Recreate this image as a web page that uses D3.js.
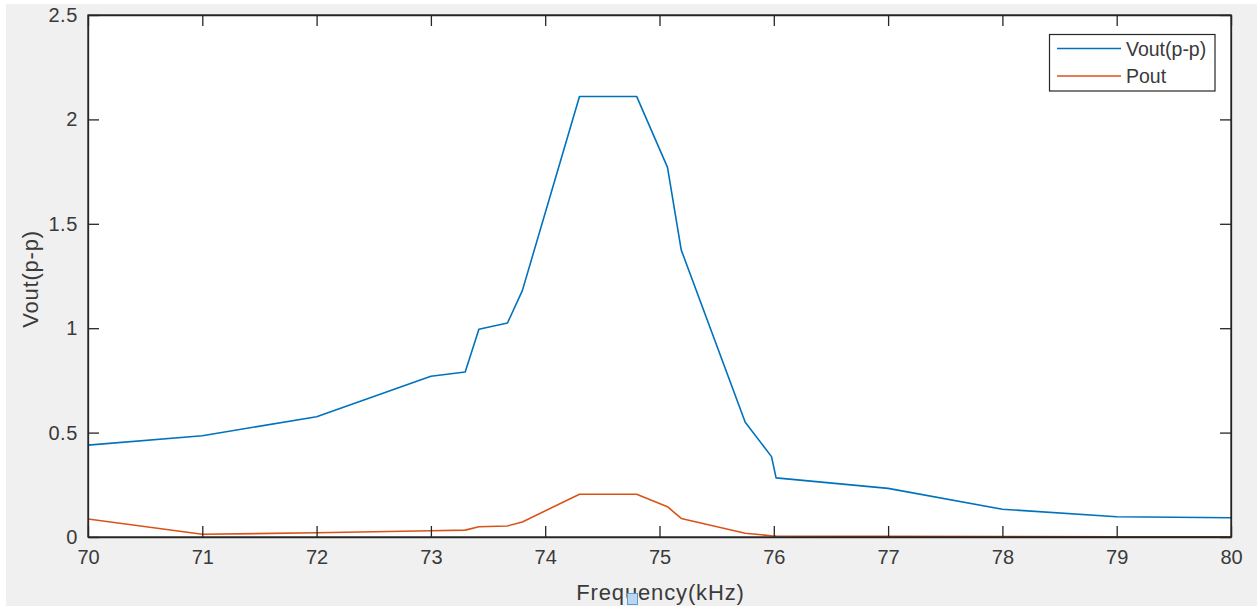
<!DOCTYPE html>
<html>
<head>
<meta charset="utf-8">
<script src="https://cdn.jsdelivr.net/npm/d3@7"></script>
<style>
  html, body { margin: 0; padding: 0; background: #ffffff; }
  svg { display: block; font-family: "Liberation Sans", Arial, Helvetica, sans-serif; }
</style>
</head>
<body>
<svg id="chart" width="1257" height="613"></svg>
<script>
// ---- data ----
const frequency = [70, 71, 72, 73, 73.3, 73.42, 73.67, 73.8, 74.3, 74.8, 75.07, 75.19, 75.75, 75.98, 76.02, 77, 78, 79, 80];
const voutPP   = [0.44, 0.485, 0.576, 0.77, 0.79, 0.995, 1.025, 1.18, 2.11, 2.11, 1.77, 1.375, 0.55, 0.385, 0.283, 0.233, 0.133, 0.097, 0.092];
const pout     = [0.086, 0.013, 0.02, 0.03, 0.033, 0.049, 0.053, 0.072, 0.205, 0.205, 0.145, 0.089, 0.018, 0.006, 0.005, 0.003, 0.002, 0.001, 0.001];
const xTicks = [70, 71, 72, 73, 74, 75, 76, 77, 78, 79, 80];
const yTicks = [0, 0.5, 1, 1.5, 2, 2.5];
const yTickLabels = ["0", "0.5", "1", "1.5", "2", "2.5"];
const seriesNames = ["Vout(p-p)", "Pout"];
const seriesColors = ["#0072BD", "#D95319"];
const xLabel = "Frequency(kHz)";
const yLabel = "Vout(p-p)";

// ---- layout ----
const W = 1257, H = 613;
const L = 88, R = 1231, T = 15, B = 537;
const svg = d3.select("#chart");
const axisColor = "#262626";
const textColor = "#3a3a3a";
const tickLen = 11;

svg.append("rect").attr("x", 6).attr("y", 4).attr("width", W - 6).attr("height", 602).attr("fill", "#f0f0f0");
svg.append("rect").attr("x", L).attr("y", T).attr("width", R - L).attr("height", B - T).attr("fill", "#ffffff");

const x = d3.scaleLinear().domain([70, 80]).range([L, R]);
const y = d3.scaleLinear().domain([0, 2.5]).range([B, T]);

// data lines (clipped to axes)
svg.append("clipPath").attr("id", "clip").append("rect")
  .attr("x", L).attr("y", T).attr("width", R - L).attr("height", B - T);
const line = d3.line().x(d => x(d[0])).y(d => y(d[1]));
const series = [voutPP, pout];
series.forEach((vals, i) => {
  svg.append("path")
    .datum(frequency.map((f, k) => [f, vals[k]]))
    .attr("clip-path", "url(#clip)")
    .attr("fill", "none")
    .attr("stroke", seriesColors[i])
    .attr("stroke-width", 1.6)
    .attr("stroke-linejoin", "round")
    .attr("d", line);
});

// axes (ticks inward)
const fontSize = 20;
const xAxisB = d3.axisBottom(x).tickValues(xTicks).tickSizeInner(-tickLen).tickSizeOuter(0).tickPadding(13).tickFormat(d3.format("d"));
const xAxisT = d3.axisTop(x).tickValues(xTicks).tickSizeInner(-tickLen).tickSizeOuter(0).tickFormat("");
const yAxisL = d3.axisLeft(y).tickValues(yTicks).tickSizeInner(-tickLen).tickSizeOuter(0).tickPadding(10).tickFormat((d, i) => yTickLabels[i]);
const yAxisR = d3.axisRight(y).tickValues(yTicks).tickSizeInner(-tickLen).tickSizeOuter(0).tickFormat("");

function style(g) {
  g.selectAll("path.domain").attr("stroke", axisColor).attr("stroke-width", 1.3);
  g.selectAll(".tick line").attr("stroke", axisColor).attr("stroke-width", 1.3);
  g.selectAll(".tick text").attr("fill", textColor).attr("font-size", fontSize).attr("font-family", "Liberation Sans, Arial, sans-serif");
}
svg.append("g").attr("transform", `translate(0,${B})`).call(xAxisB).call(style);
svg.append("g").attr("transform", `translate(0,${T})`).call(xAxisT).call(style);
svg.append("g").attr("transform", `translate(${L},0)`).call(yAxisL).call(style)
  .selectAll(".tick text").attr("letter-spacing", 0.6);
svg.append("g").attr("transform", `translate(${R},0)`).call(yAxisR).call(style);
// full box
svg.append("rect").attr("x", L).attr("y", T).attr("width", R - L).attr("height", B - T)
  .attr("fill", "none").attr("stroke", axisColor).attr("stroke-width", 1.3);

// axis labels
svg.append("text").attr("x", (L + R) / 2 + 1).attr("y", 600).attr("text-anchor", "middle")
  .attr("fill", textColor).attr("font-size", 22).attr("letter-spacing", 0.85).text(xLabel);
svg.append("text").attr("transform", `translate(38,${(T + B) / 2 + 3}) rotate(-90)`).attr("text-anchor", "middle")
  .attr("fill", textColor).attr("font-size", 22).attr("letter-spacing", 0.8).text(yLabel);

// cursor-like marker under the x label
svg.append("rect").attr("x", 627.5).attr("y", 593.5).attr("width", 10).attr("height", 11)
  .attr("fill", "#b9d7f2").attr("stroke", "#5a9bd8").attr("stroke-width", 1);

// legend
const lg = svg.append("g");
lg.append("rect").attr("x", 1049.5).attr("y", 34.5).attr("width", 165.5).attr("height", 56.5)
  .attr("fill", "#ffffff").attr("stroke", axisColor).attr("stroke-width", 1.2);
seriesNames.forEach((name, i) => {
  const yy = 48.5 + i * 27.5;
  lg.append("line").attr("x1", 1057).attr("x2", 1121).attr("y1", yy).attr("y2", yy)
    .attr("stroke", seriesColors[i]).attr("stroke-width", 1.6);
  lg.append("text").attr("x", 1126).attr("y", yy + 7).attr("fill", textColor)
    .attr("font-size", 19.5).text(name);
});
</script>
</body>
</html>
